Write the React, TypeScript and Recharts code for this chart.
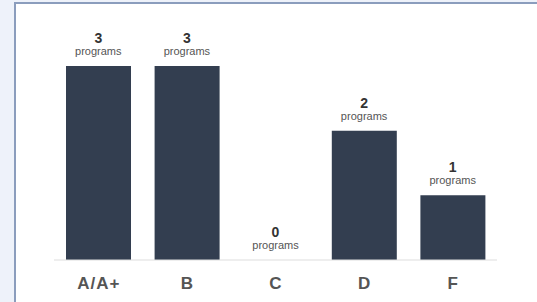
import { ComposedChart, Bar, Line, XAxis, YAxis, LabelList } from "recharts";

const grades = ["A/A+", "B", "C", "D", "F"];
const programCounts = [3, 3, 0, 2, 1];
const unitLabel = "programs";

const data = grades.map((grade, i) => ({ grade, count: programCounts[i] }));

const FONT = "'Liberation Sans', Arial, sans-serif";

const GradeTick = (props: any) => {
  const { x, payload } = props;
  return (
    <text
      x={x + 0.5}
      y={288.5}
      textAnchor="middle"
      fill="#555"
      fontSize={17}
      fontWeight={700}
      letterSpacing={1}
      fontFamily={FONT}
    >
      {payload.value}
    </text>
  );
};

// labels are hung on an invisible line so the zero bar gets one too
const CountLabel = (props: any) => {
  const { x, y, value } = props;
  return (
    <g fontFamily={FONT} textAnchor="middle">
      <text x={x} y={y - 23} fill="#333" fontSize={14} fontWeight={700}>
        {value}
      </text>
      <text x={x} y={y - 11} fill="#555" fontSize={11}>
        {unitLabel}
      </text>
    </g>
  );
};

export default function App() {
  return (
    <div
      style={{
        position: "fixed",
        left: 0,
        top: 0,
        width: 537,
        height: 302,
        background: "#eef2fa",
        overflow: "hidden",
      }}
    >
      <div
        style={{
          position: "absolute",
          left: 14,
          top: 2,
          right: 0,
          bottom: 0,
          background: "#fff",
          borderLeft: "2px solid #8b9dbd",
          borderTop: "2px solid #8b9dbd",
        }}
      />
      <div style={{ position: "absolute", left: 0, top: 0 }}>
        <ComposedChart
          width={537}
          height={302}
          data={data}
          margin={{ top: 66, right: 40, bottom: 12, left: 54 }}
          barSize={65}
        >
          <XAxis
            dataKey="grade"
            axisLine={{ stroke: "#dddddd" }}
            tickLine={false}
            height={30}
            tick={<GradeTick />}
            interval={0}
          />
          <YAxis hide domain={[0, 3]} />
          <Bar dataKey="count" fill="#333e50" isAnimationActive={false} />
          <Line
            dataKey="count"
            stroke="none"
            dot={false}
            activeDot={false}
            isAnimationActive={false}
          >
            <LabelList dataKey="count" content={<CountLabel />} />
          </Line>
        </ComposedChart>
      </div>
    </div>
  );
}
